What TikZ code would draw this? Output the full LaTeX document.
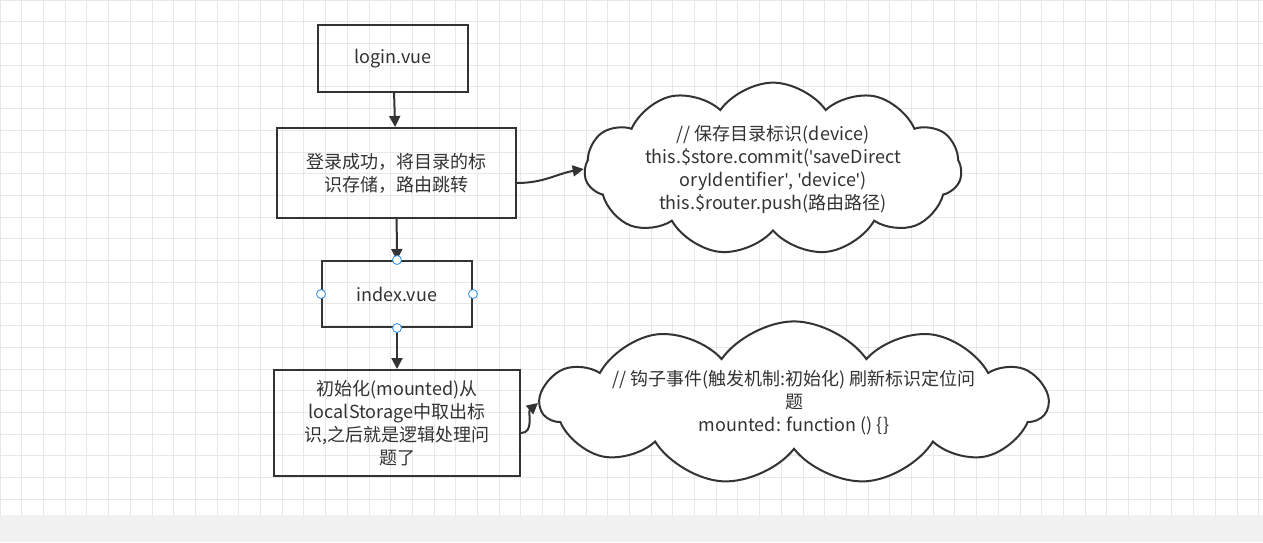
\documentclass[tikz,border=0pt]{standalone}
\usepackage{fontspec}
\setmainfont{Noto Sans CJK SC}
\newfontfamily\latinq{Noto Sans}
\newcommand{\sq}{{\latinq '}}
\usetikzlibrary{shapes.symbols,arrows.meta,positioning}
\definecolor{linecol}{HTML}{333333}
\definecolor{gridcol}{HTML}{E8E8E8}
\definecolor{handlecol}{HTML}{2A8CE8}
\tikzset{
  step box/.style={rectangle,draw=linecol,line width=2pt,align=center,font=\fontsize{18}{23}\selectfont,text=linecol},
  note cloud/.style={cloud,cloud puffs=11,cloud puff arc=110,cloud ignores aspect,draw=linecol,line width=2pt,fill=white,align=center,inner sep=0pt,font=\fontsize{18}{23}\selectfont,text=linecol},
  flow/.style={draw=linecol,line width=2pt,-{Triangle[length=11pt,width=11pt]}},
  handle/.style={circle,draw=handlecol,fill=white,line width=0.8pt,minimum size=9pt,inner sep=0pt}
}
\begin{document}
\begin{tikzpicture}[x=1pt,y=-1pt]
\useasboundingbox (0,0) rectangle (1263,542);
\fill[white] (0,0) rectangle (1263,515);
\foreach \i in {0,...,58}
  \draw[gridcol,line width=0.8pt] (\i*21.7,0) -- (\i*21.7,515);
\foreach \j in {0,...,23}
  \draw[gridcol,line width=0.8pt] (0,\j*21.7) -- (1263,\j*21.7);
\fill[gridcol!60] (0,515) rectangle (1263,542);
% boxes
\node[step box,minimum width=150pt,minimum height=67pt] (login) at (393,58.5) {login.vue};
\node[step box,minimum width=239pt,minimum height=90pt] (save) at (396.5,173) {登录成功，将目录的标\\识存储，路由跳转};
\node[step box,minimum width=150pt,minimum height=66pt] (index) at (397,294) {index.vue};
\node[step box,minimum width=246pt,minimum height=106pt] (init) at (397,423) {初始化(mounted)从\\localStorage中取出标\\识,之后就是逻辑处理问\\题了};
% clouds
\node[note cloud,minimum width=377pt,minimum height=142pt] (c1) at (773,169) {// 保存目录标识(device)\\this.\$store.commit(\sq saveDirect\\oryIdentifier\sq, \sq device\sq)\\this.\$router.push(路由路径)};
\node[note cloud,minimum width=400pt,minimum height=152pt] (c2) at (794,403) {// 钩子事件(触发机制:初始化) 刷新标识定位问\\题\\mounted: function () \{\}};
% connectors
\draw[flow] (login) -- (save);
\draw[flow] (save) -- (index);
\draw[flow] (index) -- (init);
\draw[flow] (save.east) ++(0,10) coordinate (s1) (s1) to[out=0,in=190] (c1.west);
\draw[flow] (init.east) ++(0,10) coordinate (s2) (s2) to[out=0,in=220] (c2.west);
% handles
\foreach \a in {north,south,east,west}
  \node[handle] at (index.\a) {};
\end{tikzpicture}
\end{document}
